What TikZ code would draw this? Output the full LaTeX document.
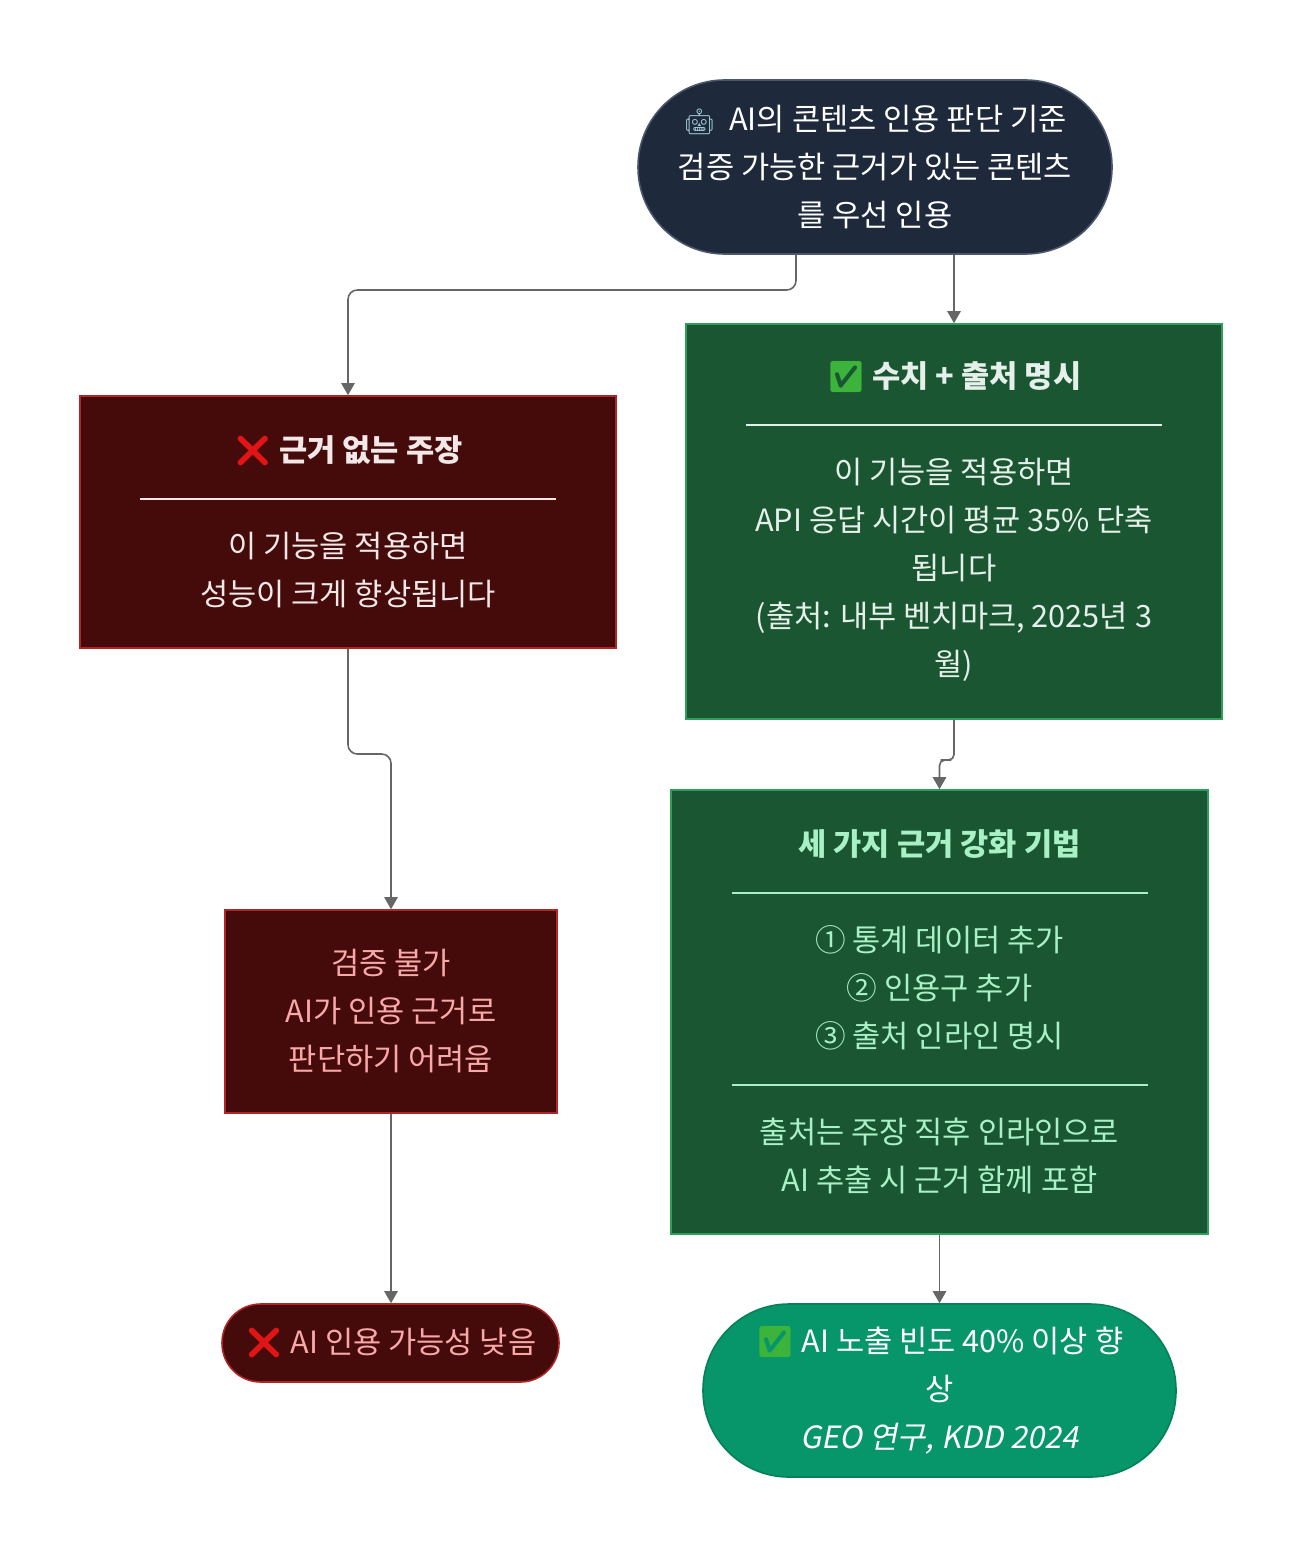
\documentclass[tikz,border=0pt]{standalone}
\usepackage{fontspec}
\setmainfont{Noto Sans CJK KR}[AutoFakeSlant=0.2]
\newfontfamily\emojifont{Noto Emoji}
\usetikzlibrary{arrows.meta}
\definecolor{navy}{HTML}{1E293B}
\definecolor{navyedge}{HTML}{4A566C}
\definecolor{darkgreen}{HTML}{1A5632}
\definecolor{greenedge}{HTML}{2F9E5B}
\definecolor{darkred}{HTML}{450A0A}
\definecolor{rededge}{HTML}{B02626}
\definecolor{emerald}{HTML}{079669}
\definecolor{emeraldedge}{HTML}{06805A}
\definecolor{paletext}{HTML}{E6F0EA}
\definecolor{minttext}{HTML}{A8F0C6}
\definecolor{whitered}{HTML}{F2E8E8}
\definecolor{pinktext}{HTML}{F9A8A8}
\definecolor{linegray}{HTML}{666666}
\definecolor{crossred}{HTML}{E01515}
\definecolor{checkgreen}{HTML}{3CB43C}
\definecolor{robotblue}{HTML}{9EC6D6}
\newcommand{\divline}{\raisebox{0.32em}{\rule{312pt}{1.5pt}}}
\newcommand{\okmark}{{\emojifont\textcolor{checkgreen}{✅}}}
\newcommand{\nomark}{{\emojifont\textcolor{crossred}{❌}}}
\begin{document}
\begin{tikzpicture}[x=0.75pt,y=-0.75pt,
    flow/.style={rectangle,line width=1.2pt,align=center,inner sep=0pt,
      font=\fontsize{23pt}{36pt}\selectfont},
    pill/.style={flow,rounded corners=#1},
    conn/.style={draw=linegray,line width=1.2pt,rounded corners=7pt,
      -{Triangle[width=10pt,length=9pt]}}]
  \useasboundingbox (0,0) rectangle (1302,1558);
  \path
    (875,167) node[pill=65pt,fill=navy,draw=navyedge,text=white,
      minimum width=355.5pt,minimum height=130.5pt] (top)
      {{\emojifont\fontsize{19pt}{19pt}\selectfont\textcolor{robotblue}{🤖}}\ \ AI의 콘텐츠 인용 판단 기준\\
       검증 가능한 근거가 있는 콘텐츠\\를 우선 인용}
    (348,522) node[flow,fill=darkred,draw=rededge,text=whitered,
      minimum width=402pt,minimum height=189pt] (r1)
      {\nomark\ \textbf{근거 없는 주장}\\\divline\\
       이 기능을 적용하면\\성능이 크게 향상됩니다}
    (954,521.5) node[flow,fill=darkgreen,draw=greenedge,text=paletext,
      minimum width=402pt,minimum height=296.25pt] (g1)
      {\okmark\ \textbf{수치 + 출처 명시}\\\divline\\
       이 기능을 적용하면\\API 응답 시간이 평균 35\% 단축\\됩니다\\
       (출처: 내부 벤치마크, 2025년 3\\월)}
    (391,1011.5) node[flow,fill=darkred,draw=rededge,text=pinktext,
      minimum width=249pt,minimum height=152.25pt] (r2)
      {검증 불가\\AI가 인용 근거로\\판단하기 어려움}
    (939.5,1012) node[flow,fill=darkgreen,draw=greenedge,text=minttext,
      minimum width=402.75pt,minimum height=333pt] (g2)
      {\textbf{세 가지 근거 강화 기법}\\\divline\\
       ① 통계 데이터 추가\\② 인용구 추가\\③ 출처 인라인 명시\\\divline\\
       출처는 주장 직후 인라인으로\\AI 추출 시 근거 함께 포함}
    (390.5,1343) node[pill=29pt,fill=darkred,draw=rededge,text=pinktext,
      minimum width=252.75pt,minimum height=58.5pt] (rs)
      {\nomark\ AI 인용 가능성 낮음}
    (939.5,1390.5) node[pill=64.5pt,fill=emerald,draw=emeraldedge,text=white,
      minimum width=354.75pt,minimum height=129.75pt] (gs)
      {\okmark\ AI 노출 빈도 40\% 이상 향\\상\\\textit{GEO 연구, KDD 2024}};
  \coordinate (jA) at (348,290);
  \coordinate (jB) at (369,754);
  \coordinate (jC) at (946,760);
  \begin{scope}[conn]
    \draw ([xshift=-59.25pt]top.south) |- (jA) -- (r1.north);
    \draw ([xshift=59.25pt]top.south) -- (g1.north);
    \draw (r1.south) |- (jB) -| (r2.north);
    \draw[rounded corners=4pt] (g1.south) |- (jC) -| (g2.north);
    \draw (r2.south) -- (r2.south |- rs.north);
    \draw (g2.south) -- (gs.north);
  \end{scope}
\end{tikzpicture}
\end{document}
